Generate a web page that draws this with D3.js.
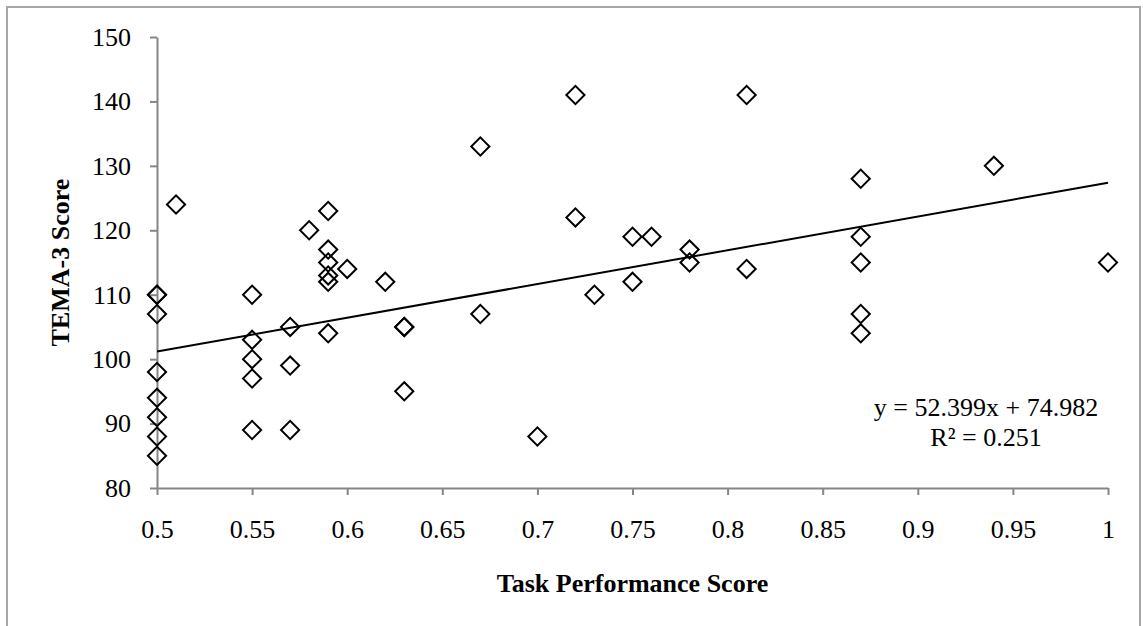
<!DOCTYPE html>
<html>
<head>
<meta charset="utf-8">
<script src="https://cdn.jsdelivr.net/npm/d3@7"></script>
<style>
  body { margin: 0; background: #fff; }
  text { font-family: "Liberation Serif", "Times New Roman", serif; }
</style>
</head>
<body>
<div class="canvas"></div>
<script>

// task performance score (x) and TEMA-3 score (y)
const taskScore = [
  0.5, 0.5, 0.5, 0.5, 0.5, 0.5, 0.5, 0.5,
  0.51,
  0.55, 0.55, 0.55, 0.55, 0.55,
  0.57, 0.57, 0.57,
  0.58,
  0.59, 0.59, 0.59, 0.59, 0.59, 0.59,
  0.6, 0.62,
  0.63, 0.63, 0.63,
  0.67, 0.67,
  0.7,
  0.72, 0.72,
  0.73,
  0.75, 0.75,
  0.76,
  0.78, 0.78,
  0.81, 0.81,
  0.87, 0.87, 0.87, 0.87, 0.87,
  0.94, 1
];
const temaScore = [
  110, 110, 107, 98, 94, 91, 88, 85,
  124,
  110, 103, 100, 97, 89,
  105, 99, 89,
  120,
  123, 117, 115, 113, 112, 104,
  114, 112,
  105, 105, 95,
  133, 107,
  88,
  141, 122,
  110,
  119, 112,
  119,
  117, 115,
  141, 114,
  128, 119, 115, 107, 104,
  130, 115
];
const xTicks = [0.5, 0.55, 0.6, 0.65, 0.7, 0.75, 0.8, 0.85, 0.9, 0.95, 1];
const yTicks = [80, 90, 100, 110, 120, 130, 140, 150];
const slope = 52.399;
const intercept = 74.982;
const rSquared = 0.251;

const dims = { width: 1143, height: 626 };

const svg = d3.select('.canvas')
  .append('svg')
  .attr('width', dims.width)
  .attr('height', dims.height);

// outer chart border
svg.append('rect')
  .attr('x', 7).attr('y', 7)
  .attr('width', 1133).attr('height', 700)
  .attr('fill', 'none')
  .attr('stroke', '#a6a6a6')
  .attr('stroke-width', 2);

const x = d3.scaleLinear().domain([0.5, 1]).range([157, 1108]);
const y = d3.scaleLinear().domain([80, 150]).range([488, 37]);

const fmt = d => String(+d.toFixed(2));

const yAxis = svg.append('g')
  .attr('transform', `translate(${x(0.5)},0)`)
  .call(d3.axisLeft(y).tickValues(yTicks).tickSize(7).tickSizeOuter(0).tickPadding(19));

const xAxis = svg.append('g')
  .attr('transform', `translate(0,${y(80)})`)
  .call(d3.axisBottom(x).tickValues(xTicks).tickFormat(fmt).tickSize(7).tickSizeOuter(0).tickPadding(25));

[xAxis, yAxis].forEach(ax => {
  ax.select('.domain').attr('stroke', '#868686').attr('stroke-width', 2);
  ax.selectAll('.tick line').attr('stroke', '#868686').attr('stroke-width', 2);
  ax.selectAll('.tick text')
    .attr('fill', '#000')
    .style('font-family', '"Liberation Serif", serif')
    .style('font-size', '26px');
});

// trend line
svg.append('line')
  .attr('x1', x(0.5)).attr('y1', y(slope * 0.5 + intercept))
  .attr('x2', x(1)).attr('y2', y(slope * 1 + intercept))
  .attr('stroke', '#000')
  .attr('stroke-width', 2);

// diamond markers
const diamond = d3.symbol().type(d3.symbolSquare).size(165);
svg.append('g')
  .selectAll('path')
  .data(taskScore.map((t, i) => ({ t, v: temaScore[i] })))
  .enter()
  .append('path')
  .attr('d', diamond)
  .attr('transform', d => `translate(${x(d.t)},${y(d.v)}) rotate(45)`)
  .attr('fill', 'none')
  .attr('stroke', '#000')
  .attr('stroke-width', 2);

// equation label
const eq = svg.append('text')
  .attr('text-anchor', 'middle')
  .attr('font-size', '26px')
  .attr('fill', '#000');
eq.append('tspan').attr('x', 986).attr('y', 416)
  .text(`y = ${slope}x + ${intercept}`);
eq.append('tspan').attr('x', 986).attr('y', 446)
  .text(`R² = ${rSquared}`);

// axis titles
svg.append('text')
  .attr('x', (x(0.5) + x(1)) / 2)
  .attr('y', 592)
  .attr('text-anchor', 'middle')
  .attr('font-size', '26px')
  .attr('font-weight', 'bold')
  .text('Task Performance Score');

svg.append('text')
  .attr('transform', `translate(69,${(y(80) + y(150)) / 2}) rotate(-90)`)
  .attr('text-anchor', 'middle')
  .attr('font-size', '26px')
  .attr('font-weight', 'bold')
  .text('TEMA-3 Score');

</script>
</body>
</html>
